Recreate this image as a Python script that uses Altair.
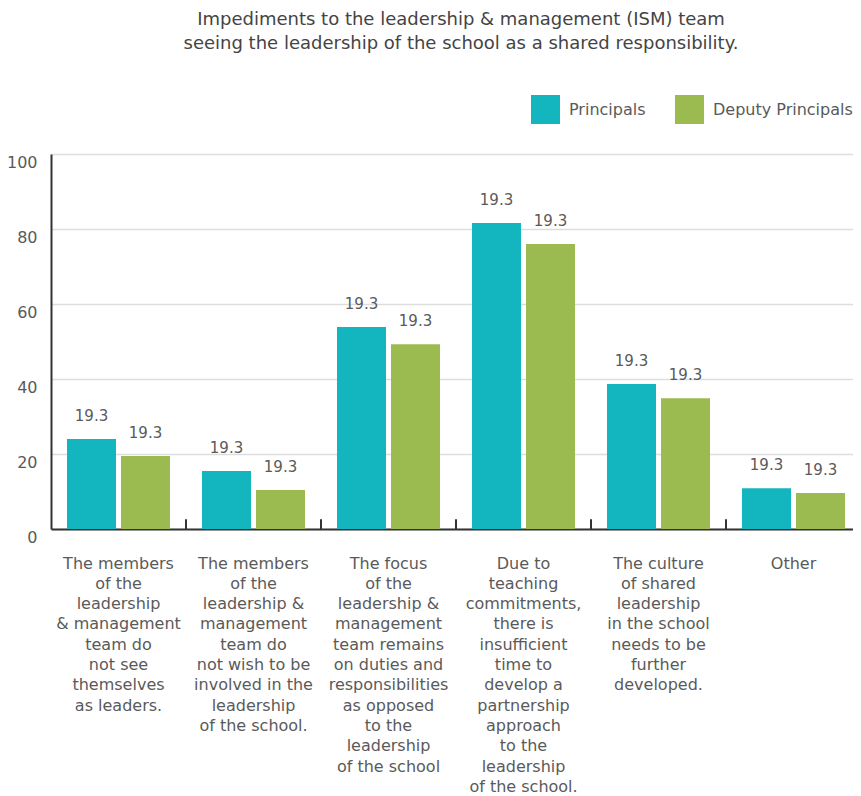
import altair as alt
import pandas as pd

categories = [
    "The members|of the|leadership|& management|team do|not see|themselves|as leaders.",
    "The members|of the|leadership &|management|team do|not wish to be|involved in the|leadership|of the school.",
    "The focus|of the|leadership &|management|team remains|on duties and|responsibilities|as opposed|to the|leadership|of the school",
    "Due to|teaching|commitments,|there is|insufficient|time to|develop a|partnership|approach|to the|leadership|of the school.",
    "The culture|of shared|leadership|in the school|needs to be|further|developed.",
    "Other",
]
series = ["Principals", "Deputy Principals"]
principals = [24.0, 15.5, 53.9, 81.6, 38.7, 10.9]
deputies = [19.5, 10.4, 49.3, 76.0, 34.9, 9.6]
bar_labels = ["19.3"] * 6
colors = ["#13B5BE", "#9BBB50"]

rows = []
for i, c in enumerate(categories):
    rows.append({"cat": c, "series": series[0], "value": principals[i], "label": bar_labels[i]})
    rows.append({"cat": c, "series": series[1], "value": deputies[i], "label": bar_labels[i]})
df = pd.DataFrame(rows)
tick_df = pd.DataFrame({"cat": categories[1:]})

FONT = "DejaVu Sans"
TXT = "#5a5a5a"

x_scale = alt.Scale(paddingInner=0, paddingOuter=0, range=[0, 810])

x_enc = alt.X(
    "cat:N",
    sort=categories,
    title=None,
    scale=x_scale,
    axis=alt.Axis(
        labelAngle=0,
        labelExpr="split(datum.label, '|')",
        labelBaseline="top",
        labelLineHeight=20.3,
        labelFontSize=16,
        labelFont=FONT,
        labelColor=TXT,
        labelPadding=26,
        labelOverlap=False,
        labelLimit=300,
        ticks=False,
        domainColor="#333333",
        domainWidth=2,
        grid=False,
    ),
)
xo_enc = alt.XOffset(
    "series:N",
    sort=series,
    scale=alt.Scale(paddingInner=0.0926, paddingOuter=0.296),
)
y_enc = alt.Y(
    "value:Q",
    title=None,
    scale=alt.Scale(domain=[0, 100], nice=False),
    axis=alt.Axis(
        values=[0, 20, 40, 60, 80, 100],
        ticks=False,
        domainColor="#333333",
        domainWidth=2,
        gridColor="#dddddd",
        gridWidth=1.5,
        labelFontSize=16,
        labelFont=FONT,
        labelColor=TXT,
        labelPadding=14,
        labelOffset=8,
    ),
)

bars = alt.Chart(df).mark_bar().encode(
    x=x_enc,
    xOffset=xo_enc,
    y=y_enc,
    color=alt.Color(
        "series:N",
        sort=series,
        scale=alt.Scale(domain=series, range=colors),
        legend=alt.Legend(
            title=None,
            orient="none",
            legendX=480,
            legendY=-59,
            direction="horizontal",
            symbolType="square",
            symbolSize=841,
            symbolStrokeWidth=0,
            labelFontSize=16,
            labelFont=FONT,
            labelColor=TXT,
            labelOffset=9,
            columnPadding=29,
            labelLimit=300,
        ),
    ),
)

texts = alt.Chart(df).mark_text(
    baseline="alphabetic", dy=-18, fontSize=15, font=FONT, color=TXT
).encode(
    x=alt.X("cat:N", sort=categories),
    xOffset=alt.XOffset("series:N", sort=series),
    y="value:Q",
    text="label:N",
)

ticks = alt.Chart(tick_df).mark_rule(color="#333333", strokeWidth=2).encode(
    x=alt.X("cat:N", sort=categories, bandPosition=0),
    y=alt.datum(0),
    y2=alt.datum(2.6),
)

chart = alt.layer(bars, texts, ticks).properties(
    width=802,
    height=375,
    autosize=alt.AutoSizeParams(type="none"),
    padding={"left": 43, "top": 146, "right": 0, "bottom": 267},
    title=alt.TitleParams(
        text=["Impediments to the leadership & management (ISM) team",
              "seeing the leadership of the school as a shared responsibility."],
        anchor="middle",
        frame="group",
        fontSize=18,
        font=FONT,
        fontWeight="normal",
        color="#444444",
        lineHeight=24,
        offset=42,
        dx=9,
    ),
).configure_view(stroke=None)

chart.save("out.html", embed_options={"renderer": "svg", "actions": False})
